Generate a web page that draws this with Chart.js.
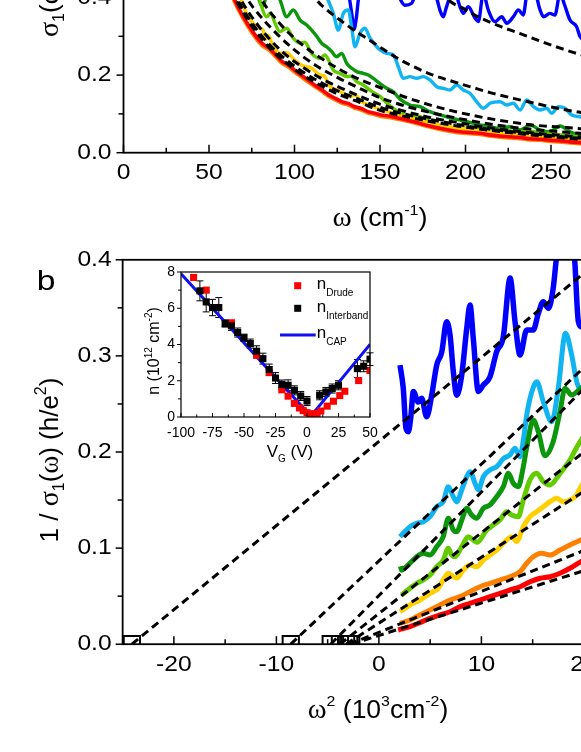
<!DOCTYPE html>
<html>
<head>
<meta charset="utf-8">
<script src="https://cdn.jsdelivr.net/npm/chart.js@4.4.1/dist/chart.umd.min.js"></script>
<style>
  html, body { margin: 0; padding: 0; overflow: hidden; background: #fff; }
  body { width: 581px; height: 752px; position: relative; }
  canvas { position: absolute; }
</style>
</head>
<body>
<canvas id="cTop" width="700" height="300" style="left:0;top:-60px"></canvas>
<canvas id="cBot" width="720" height="512" style="left:0;top:240px"></canvas>
<canvas id="cIns" width="260" height="210" style="left:120px;top:262px"></canvas>
<script>
// ---- panel a: sigma1(omega), omega in cm^-1 ----
const tRed = [[62,0.43],[65,0.394],[69,0.359],[73,0.329],[77,0.303],[81,0.282],[85,0.27],[89,0.252],[92.5,0.236],[96.4,0.226],[100,0.213],[104,0.2],[108,0.187],[112,0.174],[116,0.162],[120,0.149],[124,0.14],[128,0.131],[131.5,0.127],[135,0.119],[139,0.114],[143,0.106],[147,0.1015],[150,0.098],[156,0.094],[162,0.088],[168,0.082],[173,0.076],[179,0.069],[185,0.063],[191,0.058],[197,0.054],[203,0.052],[208.5,0.05],[214,0.046],[220,0.043],[226,0.041],[232,0.039],[238,0.036],[244,0.0345],[250,0.032],[255,0.031],[261,0.028],[267,0.026],[275,0.024]];
const tOrange = [[62,0.42],[65,0.388],[69,0.353],[73,0.323],[77,0.297],[81,0.276],[85,0.265],[89,0.247],[92.5,0.231],[96.4,0.221],[100,0.208],[104,0.195],[108,0.182],[112,0.17],[116,0.158],[120,0.145],[124,0.136],[128,0.127],[131.5,0.123],[135,0.115],[139,0.11],[143,0.102],[147,0.098],[150,0.094],[156,0.09],[162,0.085],[168,0.079],[173,0.073],[179,0.066],[185,0.06],[191,0.055],[197,0.051],[203,0.049],[208.5,0.047],[214,0.043],[220,0.04],[226,0.038],[232,0.036],[238,0.033],[244,0.032],[250,0.029],[255,0.028],[261,0.025],[267,0.023],[275,0.021]];
const tYellow = [[66,0.43],[69,0.394],[71,0.368],[75,0.338],[79,0.322],[81.5,0.317],[83,0.292],[84.5,0.303],[87.6,0.273],[91.5,0.256],[95.4,0.258],[100,0.239],[104,0.226],[110,0.2175],[115,0.2],[117.3,0.198],[120.8,0.17],[124.7,0.162],[128.5,0.153],[132.5,0.1443],[135.4,0.1487],[139.3,0.131],[143.2,0.123],[150,0.112],[156,0.104],[162,0.097],[168,0.09],[173,0.084],[179,0.077],[185,0.0714],[191,0.067],[197,0.063],[203,0.059],[208.5,0.056],[214,0.053],[220,0.05],[226,0.048],[232,0.0456],[238,0.043],[244,0.041],[250,0.039],[255,0.037],[261,0.035],[267,0.033],[275,0.031]];
const tLGreen = [[78,0.43],[80.8,0.376],[83.7,0.35],[86,0.36],[88.6,0.3335],[91.5,0.312],[95.4,0.3206],[99.3,0.295],[103.2,0.282],[106,0.285],[110,0.256],[114.9,0.2433],[117.8,0.2518],[122.7,0.213],[126.6,0.2046],[130.5,0.196],[133,0.197],[136.4,0.183],[140.2,0.1745],[145.1,0.158],[150,0.145],[154,0.128],[157.8,0.114],[161.7,0.103],[165.6,0.097],[169.5,0.095],[173.4,0.0928],[177,0.085],[181.2,0.076],[185,0.066],[191,0.064],[197,0.063],[203,0.063],[208.5,0.063],[214,0.061],[220,0.0585],[226,0.056],[232,0.054],[238,0.055],[244,0.0516],[250,0.048],[255,0.0456],[261,0.043],[267,0.041],[275,0.039]];
const tGreen = [[76,0.45],[80,0.385],[81.5,0.378],[84,0.41],[88,0.42],[91.5,0.394],[95.4,0.3505],[99.3,0.368],[103.2,0.342],[107.1,0.329],[110,0.316],[113,0.3],[115.9,0.282],[118.8,0.273],[121.5,0.262],[124.7,0.2474],[127.6,0.256],[130.5,0.2304],[133.5,0.2175],[136.4,0.209],[140.2,0.2046],[143.2,0.2],[146.1,0.1917],[150,0.178],[153.9,0.166],[157.8,0.157],[161.7,0.138],[167.5,0.123],[173.4,0.1186],[179.2,0.1057],[185.1,0.0972],[190.9,0.09],[196.8,0.0843],[202.6,0.078],[208.5,0.0714],[214.3,0.067],[220.2,0.0629],[226,0.067],[231.9,0.0585],[237.7,0.0714],[243.6,0.0585],[249.4,0.0541],[255.3,0.0688],[261.1,0.0541],[267,0.0456],[275,0.044]];
const tLBlue = [[115,0.44],[119,0.4],[122.7,0.359],[125.6,0.316],[128.5,0.359],[131.5,0.368],[133.5,0.32],[135.4,0.273],[138.3,0.3077],[141.2,0.3206],[144.2,0.295],[148.1,0.273],[150,0.2647],[153.9,0.256],[157.8,0.2518],[160.7,0.2217],[163.6,0.1917],[167.5,0.196],[171.4,0.1917],[175.3,0.196],[179.2,0.1874],[183.2,0.17],[187,0.166],[190.9,0.1616],[194.8,0.1745],[198.7,0.1616],[202.6,0.153],[206.5,0.1314],[210.4,0.1144],[214.3,0.1273],[220.2,0.1314],[224.1,0.123],[228,0.1273],[231.9,0.11],[235.8,0.1358],[239.7,0.1186],[243.6,0.11],[247.5,0.1144],[250.4,0.1015],[254.3,0.1186],[258.2,0.1144],[262.1,0.097],[267,0.0928],[275,0.09]];
const tBlue = [[128,0.45],[132,0.4],[134,0.342],[134.8,0.318],[136,0.342],[137.5,0.4],[140,0.45],[150,0.46],[160,0.41],[164.6,0.38],[168.5,0.385],[171,0.41],[178,0.43],[183,0.4],[185,0.368],[187,0.3505],[188.9,0.376],[192,0.41],[195,0.4],[196.8,0.376],[198.7,0.359],[201.6,0.376],[205.6,0.3464],[207.5,0.3377],[210.4,0.41],[213.3,0.368],[217.3,0.3377],[221.2,0.3505],[224.1,0.3335],[228,0.3505],[230.9,0.368],[233.8,0.355],[236,0.41],[240,0.42],[243.6,0.368],[245.6,0.3505],[249.4,0.359],[252.3,0.355],[255.3,0.41],[258,0.38],[261.1,0.342],[265,0.3247],[267,0.299],[275,0.28]];
const tFitBlue = [[186,0.42],[190,0.394],[198.7,0.372],[206.5,0.352],[220,0.326],[232,0.307],[244,0.287],[255,0.27],[267,0.253],[285,0.232]];
const tFitLBlue = [[110,0.42],[113,0.394],[119,0.368],[126.6,0.342],[134.4,0.317],[142.2,0.295],[150,0.272],[160,0.244],[170,0.221],[181,0.2],[193,0.183],[205,0.167],[216,0.153],[228,0.14],[240,0.128],[251,0.117],[263,0.107],[285,0.092]];
const tFitGreen = [[78,0.42],[80,0.4],[90,0.34],[100,0.295],[110,0.26],[125,0.218],[138,0.189],[150,0.168],[165,0.143],[180,0.122],[195,0.105],[210,0.091],[225,0.08],[240,0.071],[255,0.066],[267,0.062],[285,0.057]];
const tFitLGreen = [[70,0.42],[72,0.4],[80,0.352],[90,0.305],[100,0.265],[112,0.226],[125,0.194],[138,0.166],[150,0.142],[165,0.12],[180,0.103],[195,0.089],[210,0.077],[225,0.067],[240,0.06],[255,0.054],[267,0.05],[285,0.045]];
const tFitYellow = [[66,0.42],[68,0.4],[75,0.35],[85,0.295],[95,0.252],[105,0.22],[115,0.193],[125,0.171],[138,0.146],[150,0.125],[165,0.106],[180,0.09],[195,0.078],[210,0.067],[225,0.058],[240,0.051],[255,0.045],[267,0.041],[285,0.037]];
const tFitOrange = [[64,0.42],[66,0.4],[75,0.335],[85,0.28],[95,0.24],[105,0.208],[115,0.182],[125,0.16],[138,0.137],[150,0.117],[165,0.099],[180,0.085],[195,0.073],[210,0.063],[225,0.055],[240,0.048],[255,0.042],[267,0.037],[285,0.033]];
const tFitRed = [[63,0.42],[65,0.4],[75,0.327],[85,0.272],[95,0.232],[105,0.2],[115,0.174],[125,0.152],[138,0.13],[150,0.109],[165,0.093],[180,0.08],[195,0.069],[210,0.06],[225,0.052],[240,0.045],[255,0.039],[267,0.0345],[285,0.031]];

// ---- panel b: 1/sigma1 vs omega^2 (10^3 cm^-2) ----
const bRed = [[1.88,0.0148],[3.03,0.0183],[4.0,0.0224],[4.99,0.027],[5.97,0.0304],[6.94,0.0338],[7.91,0.039],[8.89,0.0425],[9.86,0.046],[10.84,0.0495],[11.81,0.053],[12.79,0.0564],[13.77,0.0598],[14.74,0.065],[15.72,0.0686],[16.69,0.0702],[17.67,0.0738],[18.64,0.079],[19.7,0.0858],[20.2,0.088]];
const bOrange = [[2.06,0.0217],[3.03,0.0252],[4.0,0.0304],[4.99,0.0356],[5.97,0.0408],[6.94,0.046],[7.91,0.0495],[8.89,0.0547],[9.86,0.0598],[10.84,0.0634],[11.81,0.0668],[12.79,0.0702],[13.77,0.0755],[14.42,0.0842],[15.06,0.091],[15.88,0.0946],[16.69,0.0928],[17.67,0.098],[18.64,0.1032],[19.7,0.1084],[20.2,0.111]];
const bYellow = [[2.06,0.0338],[3.03,0.0408],[4.0,0.046],[4.99,0.053],[5.8,0.0582],[6.28,0.0668],[6.77,0.0738],[7.26,0.0702],[7.6,0.069],[8.24,0.0772],[8.89,0.0824],[9.54,0.0806],[10.19,0.0876],[10.84,0.0928],[11.49,0.098],[12.3,0.1067],[12.95,0.1119],[13.44,0.1067],[14.09,0.1223],[14.74,0.1327],[15.39,0.1379],[16.04,0.1431],[16.69,0.1483],[17.35,0.1518],[18.0,0.148],[18.64,0.15],[19.3,0.1553],[19.7,0.164],[20.2,0.17]];
const bLGreen = [[2.22,0.0512],[3.03,0.0582],[3.69,0.0634],[4.33,0.0668],[4.99,0.072],[5.64,0.0806],[6.28,0.0876],[6.77,0.0998],[7.1,0.0928],[7.43,0.091],[8.08,0.1015],[8.72,0.1119],[9.21,0.1084],[9.6,0.106],[10.51,0.1188],[11.16,0.124],[11.81,0.1292],[12.46,0.1379],[12.95,0.1344],[13.6,0.1327],[14.09,0.15],[14.74,0.1709],[15.39,0.1778],[16.04,0.1691],[16.69,0.1657],[17.67,0.1778],[18.64,0.1917],[19.3,0.205],[19.7,0.212],[20.2,0.22]];
const bGreen = [[2.1,0.081],[2.22,0.077],[2.5,0.079],[3.03,0.0842],[3.69,0.091],[4.33,0.0946],[4.99,0.0928],[5.64,0.1015],[6.28,0.1119],[6.77,0.131],[7.26,0.1188],[7.59,0.117],[8.08,0.129],[8.57,0.1414],[9.05,0.1344],[9.54,0.131],[10.19,0.1414],[10.84,0.1449],[11.49,0.1535],[12.14,0.1639],[12.63,0.1778],[13.11,0.1674],[13.6,0.1639],[14.09,0.1847],[14.42,0.2047],[15.06,0.2333],[15.55,0.2211],[16.2,0.196],[17.0,0.2107],[17.67,0.242],[18.16,0.2663],[18.8,0.2593],[19.7,0.2663],[20.2,0.27]];
const bLBlue = [[2.06,0.1119],[2.22,0.1136],[3.03,0.1223],[3.69,0.1258],[4.33,0.1275],[4.99,0.1327],[5.64,0.1431],[6.28,0.1483],[6.77,0.1639],[7.26,0.1535],[7.59,0.1483],[8.08,0.1605],[8.57,0.1743],[8.89,0.1795],[9.38,0.1674],[9.7,0.1605],[10.19,0.1743],[10.84,0.1813],[11.49,0.1847],[12.14,0.193],[12.79,0.197],[13.28,0.2039],[13.77,0.1951],[14.1,0.213],[14.42,0.2385],[14.9,0.262],[15.4,0.2732],[16.04,0.2523],[16.86,0.2315],[17.5,0.2663],[18.2,0.3235],[18.81,0.301],[19.3,0.273],[19.7,0.265],[20.2,0.275]];
const bBlue = [[2.06,0.2905],[2.38,0.266],[2.64,0.2247],[2.87,0.221],[3.1,0.235],[3.36,0.263],[3.84,0.252],[4.17,0.256],[4.66,0.2367],[5.15,0.259],[5.64,0.2905],[6.13,0.304],[6.61,0.3356],[6.94,0.3218],[7.26,0.2836],[7.59,0.259],[8.08,0.28],[8.57,0.3287],[8.89,0.353],[9.21,0.318],[9.7,0.263],[10.19,0.2697],[10.84,0.2784],[11.49,0.3044],[12.14,0.32],[12.8,0.381],[13.28,0.3356],[13.77,0.301],[14.42,0.327],[15.06,0.327],[15.55,0.344],[16.04,0.3564],[16.53,0.3495],[17.0,0.37],[17.35,0.405],[17.8,0.44],[18.5,0.46],[19.1,0.4],[19.46,0.3356],[19.8,0.33],[20.3,0.36]];
// linear fits: x-intercept (open square) and value at omega^2 = 20
const fitX0 = [-24.1, -8.6, -4.7, -3.8, -3.2, -2.9, -2.7];
const fitY20 = [0.386, 0.288, 0.266, 0.2, 0.159, 0.0975, 0.0765];

// ---- inset: carrier density vs gate voltage ----
const vDrude = [-90,-80,-60,-40,-30,-20,-15,-10,-6,-3,0,3,5,8,11,16,21,26,30,41,50];
const nDrude = [7.7,7.0,5.2,3.4,2.45,1.5,1.15,0.75,0.5,0.35,0.24,0.17,0.17,0.2,0.33,0.6,0.87,1.18,1.42,2.01,2.57];
const vInter = [-85,-80,-75,-70,-65,-60,-55,-50,-45,-40,-35,-30,-25,-20,-15,-10,-5,0,10,15,20,25,40,45,50];
const nInter = [6.96,6.35,6.04,6.04,5.16,5.03,4.66,4.37,4.05,3.63,3.22,2.62,2.15,1.79,1.75,1.47,1.16,0.88,1.2,1.38,1.57,1.75,2.67,2.8,3.19];
const eInter = [0.55,0.55,0.45,0.55,0.2,0.25,0.25,0.2,0.25,0.3,0.3,0.3,0.3,0.25,0.3,0.25,0.25,0.25,0.25,0.25,0.25,0.25,0.5,0.3,0.35];
const vCap = [-100, 3, 50];
const nCap = [7.9, 0.05, 4.0];

const C = { red: '#ff0000', orange: '#ff8000', yellow: '#ffcf00', lgreen: '#62cc00', green: '#0c960c', lblue: '#10b4f2', blue: '#0000ff' };
const SANS = '"Liberation Sans", Arial, sans-serif';
const SERIF = '"Liberation Serif", "Times New Roman", serif';
const F = (px, fam) => px + 'px ' + (fam || SANS);
const zip = (a, b) => a.map((v, i) => [v, b[i]]);

function drawText(ctx, parts, x, y, o) {
  ctx.save();
  ctx.translate(x, y);
  if (o.rot) ctx.rotate(o.rot);
  ctx.scale(o.sx || 1, 1);
  ctx.textBaseline = o.base || 'alphabetic';
  ctx.textAlign = 'left';
  ctx.fillStyle = '#000';
  let w = 0;
  for (const p of parts) { ctx.font = p.font; p.w = ctx.measureText(p.t).width; w += p.w; }
  let cx = o.align === 'center' ? -w / 2 : o.align === 'right' ? -w : 0;
  for (const p of parts) { ctx.font = p.font; ctx.fillText(p.t, cx, p.dy || 0); cx += p.w; }
  ctx.restore();
}

// ticks, tick labels, frame and titles
function makeDeco(cfg) {
  return {
    id: 'deco',
    afterDraw(chart) {
      const ctx = chart.ctx, a = chart.chartArea;
      ctx.save();
      ctx.strokeStyle = '#000';
      ctx.lineWidth = cfg.lw;
      for (const id of ['x', 'y']) {
        const s = chart.scales[id], c = cfg[id];
        for (const t of s.ticks) {
          const v = t.value;
          const major = Math.abs(v / c.major - Math.round(v / c.major)) < 1e-6;
          const p = s.getPixelForValue(v);
          const len = major ? c.len : c.minorLen;
          ctx.beginPath();
          if (id === 'x') {
            ctx.moveTo(p, a.bottom);
            ctx.lineTo(p, a.bottom + (c.dir === 'in' ? -len : len));
          } else {
            ctx.moveTo(a.left, p);
            ctx.lineTo(a.left + (c.dir === 'in' ? len : -len), p);
          }
          ctx.stroke();
          if (major) {
            const f = [{ t: c.fmt(v), font: c.font }];
            if (id === 'x') drawText(ctx, f, p, a.bottom + c.pad, { align: 'center', base: 'middle', sx: c.sx });
            else drawText(ctx, f, a.left - c.pad, p, { align: 'right', base: 'middle', sx: c.sx });
          }
        }
      }
      ctx.lineWidth = cfg.frame;
      ctx.strokeRect(a.left, a.top, a.right - a.left, a.bottom - a.top);
      ctx.restore();
      if (cfg.extra) cfg.extra(ctx, chart);
    }
  };
}

function axis(min, max, step, size) {
  return {
    type: 'linear', min: min, max: max,
    ticks: { stepSize: step, display: false, autoSkip: false },
    grid: { display: false, drawTicks: false },
    border: { display: false },
    afterFit: s => { if (s.isHorizontal()) s.height = size; else s.width = size; }
  };
}
function curve(data, color, w) {
  return { data: data, borderColor: color, borderWidth: w, pointRadius: 0, fill: false,
    cubicInterpolationMode: 'monotone', borderJoinStyle: 'round', clip: 0 };
}
function fit(data, w) {
  return { data: data, borderColor: '#000', borderWidth: w, borderDash: [8, 5], pointRadius: 0,
    fill: false, cubicInterpolationMode: 'monotone', clip: 0 };
}
const base = { responsive: false, animation: false, devicePixelRatio: 1, events: [],
  plugins: { legend: { display: false }, tooltip: { enabled: false } } };

// panel a
new Chart(document.getElementById('cTop'), {
  type: 'line',
  data: { datasets: [
    fit(tFitRed, 3), fit(tFitOrange, 3), fit(tFitYellow, 3), fit(tFitLGreen, 3), fit(tFitGreen, 3), fit(tFitLBlue, 3), fit(tFitBlue, 3),
    curve(tRed, C.red, 3.6), curve(tOrange, C.orange, 3.6), curve(tYellow, C.yellow, 3.4), curve(tLGreen, C.lgreen, 3.4),
    curve(tGreen, C.green, 3.4), curve(tLBlue, C.lblue, 3.4), curve(tBlue, C.blue, 3.4)
  ] },
  options: Object.assign({}, base, {
    layout: { padding: { top: 18.7, right: 12.2, left: 0, bottom: 0 } },
    scales: { x: axis(0, 330, 25, 87.3), y: axis(0, 0.5, 0.1, 123.5) }
  }),
  plugins: [makeDeco({
    lw: 1.5, frame: 1.8,
    x: { major: 50, len: 8, minorLen: 5, dir: 'in', pad: 20.5, font: F(22), sx: 1.12, fmt: v => String(Math.round(v)) },
    y: { major: 0.2, len: 7, minorLen: 5, dir: 'out', pad: 12, font: F(22), sx: 1.12, fmt: v => v.toFixed(1) },
    extra(ctx) {
      drawText(ctx, [{ t: 'ω', font: F(27, SERIF) }, { t: ' (cm', font: F(25) }, { t: '-1', font: F(15), dy: -11 }, { t: ')', font: F(25) }],
        380, 286, { align: 'center', sx: 1.08 });
      drawText(ctx, [{ t: 'σ', font: F(28, SERIF) }, { t: '1', font: F(16), dy: 6 }, { t: '(', font: F(26) }, { t: 'ω', font: F(27, SERIF) }, { t: ')', font: F(26) }],
        58, 97, { align: 'left', rot: -Math.PI / 2 });
    }
  })]
});

// panel b
const fitSets = fitX0.map((x0, i) => fit([[x0, 0], [20, fitY20[i]]], 3));
new Chart(document.getElementById('cBot'), {
  type: 'line',
  data: { datasets: [
    { data: fitX0.map(x => [x, 0]), showLine: false, pointStyle: 'rect', pointRadius: 11.5,
      pointBorderWidth: 2, pointBorderColor: '#000', pointBackgroundColor: 'rgba(0,0,0,0)', clip: 0 },
    ...fitSets,
    curve(bRed, C.red, 5), curve(bOrange, C.orange, 5), curve(bYellow, C.yellow, 5), curve(bLGreen, C.lgreen, 5),
    curve(bGreen, C.green, 5), curve(bLBlue, C.lblue, 5), curve(bBlue, C.blue, 5.5)
  ] },
  options: Object.assign({}, base, {
    layout: { padding: { top: 19.8, right: 33.6, left: 0, bottom: 0 } },
    scales: { x: axis(-25, 30, 5, 107.8), y: axis(0, 0.4, 0.05, 122.65) }
  }),
  plugins: [makeDeco({
    lw: 1.5, frame: 1.8,
    x: { major: 10, len: 8, minorLen: 5, dir: 'in', pad: 21, font: F(22), sx: 1.12, fmt: v => String(Math.round(v)) },
    y: { major: 0.1, len: 7, minorLen: 5, dir: 'out', pad: 11, font: F(22), sx: 1.12, fmt: v => v.toFixed(1) },
    extra(ctx) {
      drawText(ctx, [{ t: 'b', font: F(28) }], 46, 50, { align: 'center', sx: 1.2 });
      drawText(ctx, [{ t: 'ω', font: F(27, SERIF) }, { t: '2', font: F(15), dy: -12 }, { t: ' (10', font: F(25) }, { t: '3', font: F(15), dy: -12 },
        { t: 'cm', font: F(25) }, { t: '-2', font: F(15), dy: -12 }, { t: ')', font: F(25) }], 378, 478, { align: 'center', sx: 1.06 });
      drawText(ctx, [{ t: '1 / ', font: F(26) }, { t: 'σ', font: F(28, SERIF) }, { t: '1', font: F(16), dy: 6 }, { t: '(', font: F(26) },
        { t: 'ω', font: F(27, SERIF) }, { t: ') (h/e', font: F(26) }, { t: '2', font: F(16), dy: -12 }, { t: ')', font: F(26) }],
        58, 220, { align: 'center', rot: -Math.PI / 2 });
    }
  })]
});

// inset
const errBars = {
  id: 'errBars',
  beforeDatasetsDraw(chart) {
    const ctx = chart.ctx, x = chart.scales.x, y = chart.scales.y;
    ctx.save();
    ctx.strokeStyle = '#000';
    ctx.lineWidth = 1;
    vInter.forEach((v, i) => {
      const px = x.getPixelForValue(v);
      const y1 = y.getPixelForValue(nInter[i] - eInter[i]), y2 = y.getPixelForValue(nInter[i] + eInter[i]);
      ctx.beginPath();
      ctx.moveTo(px, y1); ctx.lineTo(px, y2);
      ctx.moveTo(px - 3.5, y1); ctx.lineTo(px + 3.5, y1);
      ctx.moveTo(px - 3.5, y2); ctx.lineTo(px + 3.5, y2);
      ctx.stroke();
    });
    ctx.restore();
  }
};
new Chart(document.getElementById('cIns'), {
  type: 'line',
  data: { datasets: [
    { data: zip(vInter, nInter), showLine: false, pointStyle: 'rect', pointRadius: 5, pointBorderWidth: 0, pointBackgroundColor: '#000' },
    { data: zip(vDrude, nDrude), showLine: false, pointStyle: 'rect', pointRadius: 5, pointBorderWidth: 0, pointBackgroundColor: '#ff0000' },
    { data: zip(vCap, nCap), borderColor: '#1010f0', borderWidth: 3, pointRadius: 0, fill: false, tension: 0 }
  ] },
  options: Object.assign({}, base, {
    layout: { padding: { top: 10, right: 10, left: 0, bottom: 0 } },
    scales: { x: axis(-100, 50, 12.5, 55), y: axis(0, 8, 1, 61) }
  }),
  plugins: [errBars, makeDeco({
    lw: 1, frame: 1.2,
    x: { major: 25, len: 4, minorLen: 2.5, dir: 'in', pad: 16, font: F(14), sx: 1, fmt: v => String(v) },
    y: { major: 2, len: 4, minorLen: 3, dir: 'out', pad: 6, font: F(14), sx: 1, fmt: v => String(v) },
    extra(ctx) {
      drawText(ctx, [{ t: 'n (10', font: F(16) }, { t: '12', font: F(10), dy: -7 }, { t: ' cm', font: F(16) }, { t: '-2', font: F(10), dy: -7 }, { t: ')', font: F(16) }],
        39, 89, { align: 'center', rot: -Math.PI / 2 });
      drawText(ctx, [{ t: 'V', font: F(17) }, { t: 'G', font: F(10), dy: 5 }, { t: ' (V)', font: F(17) }], 170, 195, { align: 'center' });
      ctx.save();
      ctx.fillStyle = '#ff0000'; ctx.fillRect(174.2, 20.2, 7, 7);
      ctx.fillStyle = '#000'; ctx.fillRect(174.2, 42.8, 7, 7);
      ctx.strokeStyle = '#1010f0'; ctx.lineWidth = 3;
      ctx.beginPath(); ctx.moveTo(160, 73); ctx.lineTo(195.7, 73); ctx.stroke();
      ctx.restore();
      drawText(ctx, [{ t: 'n', font: F(17) }, { t: 'Drude', font: F(10), dy: 7 }], 196.7, 27, { align: 'left' });
      drawText(ctx, [{ t: 'n', font: F(17) }, { t: 'Interband', font: F(10), dy: 7 }], 196.7, 50.3, { align: 'left' });
      drawText(ctx, [{ t: 'n', font: F(17) }, { t: 'CAP', font: F(10), dy: 7 }], 196.7, 76.3, { align: 'left' });
    }
  })]
});
</script>
</body>
</html>
